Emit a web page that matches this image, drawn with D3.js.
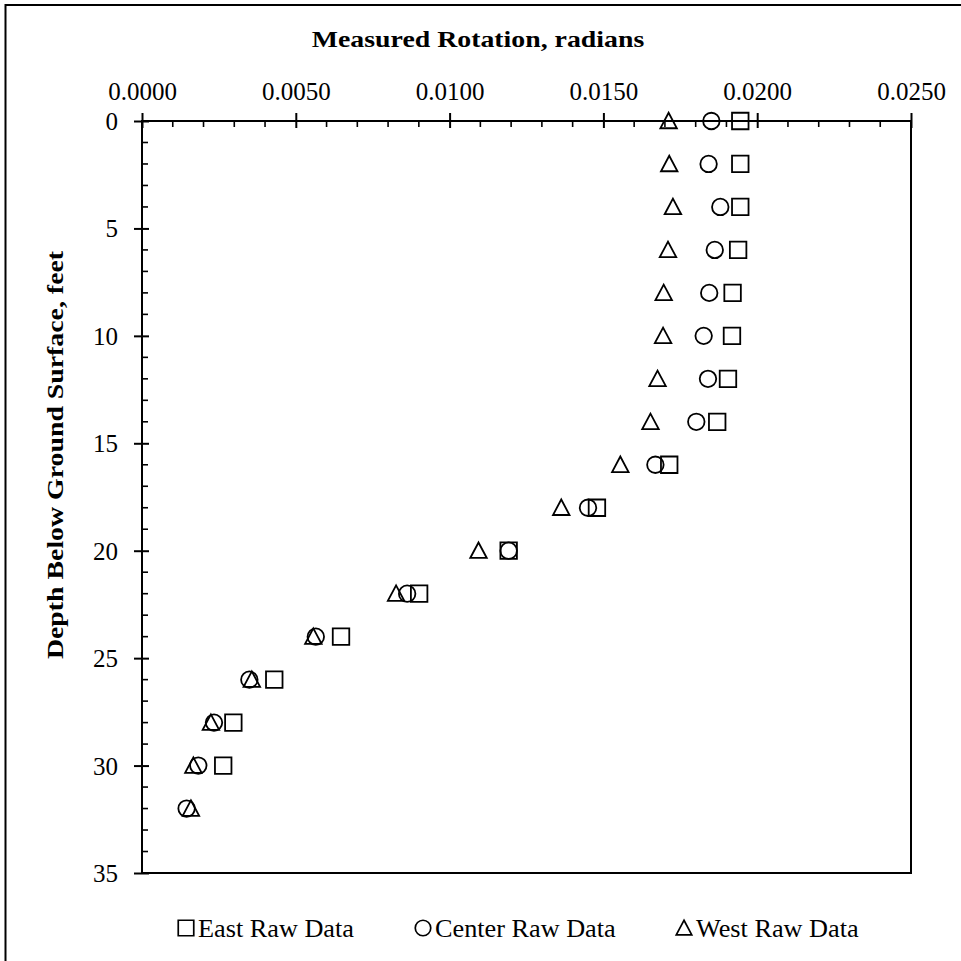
<!DOCTYPE html>
<html>
<head>
<meta charset="utf-8">
<script src="https://cdn.jsdelivr.net/npm/d3@7/dist/d3.min.js"></script>
<style>
  body { margin: 0; background: #fff; }
  text { font-family: "Liberation Serif", "Times New Roman", serif; fill: #000; }
</style>
</head>
<body>
<div id="chart"></div>
<script>
// Datos
const depths = [0, 2, 4, 6, 8, 10, 12, 14, 16, 18, 20, 22, 24, 26, 28, 30, 32];
const eastData = [0.01945, 0.01945, 0.01945, 0.01938, 0.01920, 0.01918, 0.01905, 0.01870,
  0.01714, 0.01479, 0.01192, 0.00901, 0.00647, 0.00430, 0.00297, 0.00264, null];
const centerData = [0.01851, 0.01842, 0.01880, 0.01862, 0.01844, 0.01826, 0.01840, 0.01802,
  0.01669, 0.01450, 0.01192, 0.00862, 0.00565, 0.00349, 0.00234, 0.00183, 0.00145];
const westData = [0.01712, 0.01714, 0.01726, 0.01710, 0.01696, 0.01694, 0.01676, 0.01653,
  0.01555, 0.01363, 0.01094, 0.00826, 0.00557, 0.00357, 0.00224, 0.00167, 0.00159];

const seriesNames = ['East Raw Data', 'Center Raw Data', 'West Raw Data'];
const seriesShapes = ['square', 'circle', 'triangle'];
const xTickValues = [0, 0.005, 0.010, 0.015, 0.020, 0.025];
const yTickValues = [0, 5, 10, 15, 20, 25, 30, 35];
const xTitle = 'Measured Rotation, radians';
const yTitle = 'Depth Below Ground Surface, feet';

// Tamaño general
const W = 961, H = 961;
const plot = {left: 142, right: 911, top: 121, bottom: 873};
const boldStretch = 1.21;

const svg = d3.select('#chart').append('svg')
  .attr('width', W).attr('height', H);

// Marco exterior (solo se ven el lado izquierdo y el superior)
svg.append('rect')
  .attr('x', 5.5).attr('y', 5)
  .attr('width', 1200).attr('height', 1200)
  .attr('fill', 'none').attr('stroke', '#000').attr('stroke-width', 2);

const x = d3.scaleLinear().domain([0, 0.025]).range([plot.left, plot.right]);
const y = d3.scaleLinear().domain([0, 35]).range([plot.top, plot.bottom]);

// Marco del área de trazado
svg.append('rect')
  .attr('x', plot.left).attr('y', plot.top)
  .attr('width', plot.right - plot.left).attr('height', plot.bottom - plot.top)
  .attr('fill', 'none').attr('stroke', '#000').attr('stroke-width', 2);

// Ticks menores
const xMinor = d3.range(0, 26).map(d => d * 0.001).filter((d, i) => i % 5 !== 0);
const yMinor = d3.range(0, 36).filter(d => d % 5 !== 0);

svg.append('g').selectAll('line').data(xMinor).join('line')
  .attr('x1', d => x(d)).attr('x2', d => x(d))
  .attr('y1', plot.top).attr('y2', plot.top + 6)
  .attr('stroke', '#000').attr('stroke-width', 1.6);

svg.append('g').selectAll('line').data(yMinor).join('line')
  .attr('x1', plot.left).attr('x2', plot.left + 6)
  .attr('y1', d => y(d)).attr('y2', d => y(d))
  .attr('stroke', '#000').attr('stroke-width', 1.6);

// Eje X (arriba)
const xAxis = d3.axisTop(x)
  .tickValues(xTickValues)
  .tickFormat(d3.format('.4f'))
  .tickSize(0);

const gx = svg.append('g')
  .attr('transform', 'translate(0,' + plot.top + ')')
  .call(xAxis);
gx.select('.domain').remove();
gx.selectAll('.tick line')
  .attr('y1', -8).attr('y2', 7)
  .attr('stroke', '#000').attr('stroke-width', 2);
gx.selectAll('.tick text')
  .attr('y', -21)
  .attr('dy', 0)
  .style('font-size', '25px')
  .style('font-family', '"Liberation Serif", serif');

// Eje Y (izquierda)
const yAxis = d3.axisLeft(y)
  .tickValues(yTickValues)
  .tickSize(0);

const gy = svg.append('g')
  .attr('transform', 'translate(' + plot.left + ',0)')
  .call(yAxis);
gy.select('.domain').remove();
gy.selectAll('.tick line')
  .attr('x1', -8).attr('x2', 7)
  .attr('stroke', '#000').attr('stroke-width', 2);
gy.selectAll('.tick text')
  .attr('x', -24)
  .attr('dy', '0.34em')
  .style('font-size', '25px')
  .style('font-family', '"Liberation Serif", serif');

// Títulos de ejes
svg.append('text')
  .attr('transform', 'translate(478,47) scale(' + boldStretch + ',1)')
  .attr('text-anchor', 'middle')
  .style('font-size', '23px').style('font-weight', 'bold')
  .text(xTitle);

svg.append('text')
  .attr('transform', 'translate(63,455) rotate(-90) scale(' + boldStretch + ',1)')
  .attr('text-anchor', 'middle')
  .style('font-size', '23px').style('font-weight', 'bold')
  .text(yTitle);

// Formas de los marcadores
function markerPath(shape, s) {
  const p = d3.path();
  const h = s / 2;
  if (shape === 'square') {
    p.rect(-h, -h, s, s);
  } else if (shape === 'circle') {
    p.moveTo(h, 0);
    p.arc(0, 0, h, 0, 2 * Math.PI);
  } else {
    p.moveTo(0, -h);
    p.lineTo(h, h * 0.88);
    p.lineTo(-h, h * 0.88);
    p.closePath();
  }
  return p.toString();
}

const seriesData = [eastData, centerData, westData];

seriesData.forEach(function(vals, si) {
  const pts = depths.map((d, i) => ({depth: d, value: vals[i]}))
    .filter(d => d.value !== null);
  svg.append('g')
    .attr('class', 'serie-' + si)
    .selectAll('path')
    .data(pts)
    .join('path')
    .attr('transform', d => 'translate(' + x(d.value) + ',' + y(d.depth) + ')')
    .attr('d', markerPath(seriesShapes[si], 16.5))
    .attr('fill', 'none')
    .attr('stroke', '#000')
    .attr('stroke-width', 1.8);
});

// Leyenda
const legendX = [186, 423, 684];
const legendY = 928;
const legend = svg.append('g').selectAll('g')
  .data(seriesNames)
  .join('g')
  .attr('transform', (d, i) => 'translate(' + legendX[i] + ',' + legendY + ')');

legend.append('path')
  .attr('d', (d, i) => markerPath(seriesShapes[i], 15.5))
  .attr('fill', 'none')
  .attr('stroke', '#000')
  .attr('stroke-width', 1.7);

legend.append('text')
  .attr('transform', 'translate(12,9) scale(1.05,1)')
  .style('font-size', '25px')
  .text(d => d);
</script>
</body>
</html>
